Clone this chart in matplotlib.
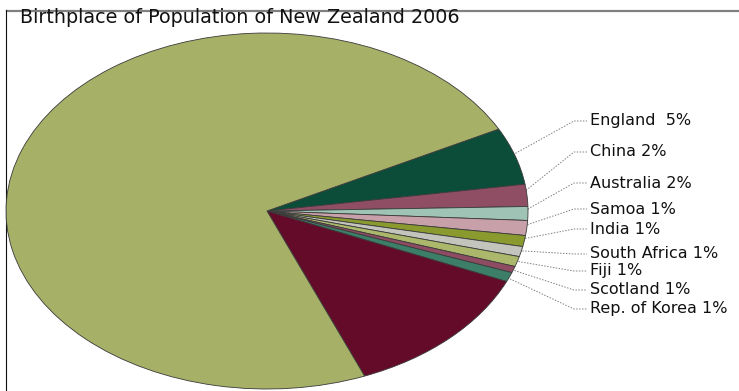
import matplotlib.pyplot as plt
import numpy as np

# data (share of population, %), clockwise from the top-right
places = ['England', 'China', 'Australia', 'Samoa', 'India', 'South Africa',
          'Fiji', 'Scotland', 'Rep. of Korea', 'Other', 'New Zealand']
shares = [5.2, 2.0, 1.25, 1.35, 1.0, 0.92, 0.92, 0.58, 0.86, 12.4, 73.4]
labels = ['England  5%', 'China 2%', 'Australia 2%', 'Samoa 1%', 'India 1%',
          'South Africa 1%', 'Fiji 1%', 'Scotland 1%', 'Rep. of Korea 1%']
colors = ['#0C4D3A', '#8F4E63', '#9FC4B6', '#C8A0AA', '#8B9A2E', '#C3C4BC',
          '#ABB86B', '#8E4C63', '#3C7E68', '#650B2A', '#A6B067']

W, H = 739, 391
fig = plt.figure(figsize=(W / 100, H / 100), dpi=100)

# full-figure overlay in pixel coords
ov = fig.add_axes([0, 0, 1, 1])
ov.set_xlim(0, W)
ov.set_ylim(H, 0)
ov.axis('off')

# elliptical pie: box in pixels
cx, cy, rx, ry = 267, 211, 261, 178
pax = fig.add_axes([(cx - rx) / W, 1 - (cy + ry) / H, 2 * rx / W, 2 * ry / H])
wedges, _ = pax.pie(shares, colors=colors, startangle=27.4, counterclock=False,
                    wedgeprops=dict(edgecolor='#3a3a3a', linewidth=0.6))
pax.set_aspect('auto')
pax.set_xlim(-1, 1)
pax.set_ylim(-1, 1)
pax.axis('off')

def to_px(ang, r=1.0):
    a = np.deg2rad(ang)
    return cx + r * rx * np.cos(a), cy - r * ry * np.sin(a)

label_y = [121, 152, 183, 209, 229, 254, 271, 290, 309]
for w, lab, ly in zip(wedges[:9], labels, label_y):
    mid = (w.theta1 + w.theta2) / 2
    x0, y0 = to_px(mid, 0.97)
    ov.plot([x0, 574, 587], [y0, ly, ly], color='#808080', lw=0.7,
            ls=(0, (1.5, 1.5)))
    ov.text(590, ly, lab, fontsize=11.5, family='DejaVu Sans', va='center',
            ha='left', color='#111111')

ov.text(55, 186, 'New Zealand  73%', fontsize=11.5, family='DejaVu Sans',
        va='center', ha='left', color='#1a1a1a')
ov.text(356, 303, 'Other 12%', fontsize=11.5, family='DejaVu Sans',
        va='center', ha='left', color='#eee6ea')

ov.text(20, 23, 'Birthplace of Population of New Zealand 2006', fontsize=13.8,
        family='DejaVu Sans', va='baseline', ha='left', color='#111111')

# frame lines
ov.plot([7, W], [10.5, 10.5], color='#808080', lw=1.6)
ov.plot([6, 6], [10, H], color='#111111', lw=0.8)

fig.savefig('out.png', dpi=100)
